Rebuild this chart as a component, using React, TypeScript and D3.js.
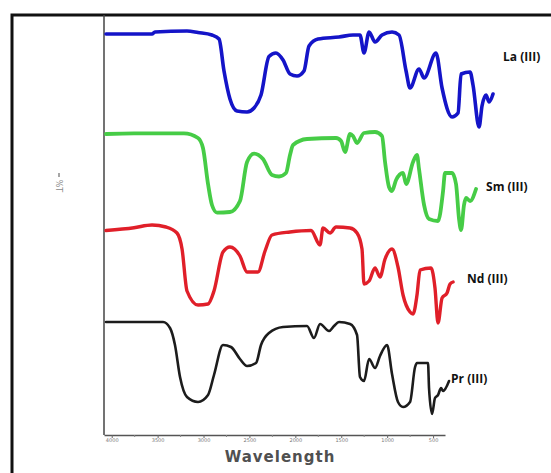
import React, { useEffect, useRef } from "react";
import * as d3 from "d3";

// x axis ticks (wavenumber, cm-1)
const xTicks = [4000, 3500, 3000, 2500, 2000, 1500, 1000, 500];
const xMinor = [3750, 3250, 2750, 2250, 1750, 1250, 750];

// [wavenumber, %T], one list per complex
const la: [number, number][] = [
  [4062, 96], [3561, 96], [3529, 98], [3180, 99], [3060, 97.5], [2908, 95], [2831, 91],
  [2777, 59], [2712, 31], [2635, 19], [2526, 18], [2450, 22], [2374, 35], [2287, 73.5],
  [2211, 77], [2134, 70], [2058, 56], [1982, 54], [1906, 59], [1851, 84], [1753, 91],
  [1524, 93], [1372, 95], [1296, 95], [1252, 77], [1197, 98], [1132, 88], [1056, 95],
  [947, 98], [871, 95], [794, 59], [751, 42], [653, 61], [598, 52], [468, 77], [402, 42],
  [293, 13], [228, 17], [195, 56], [97, 58], [65, 45], [-1, 3], [-33, 24], [-77, 35],
  [-110, 28], [-153, 36],
];
const sm: [number, number][] = [
  [4062, 93], [3757, 93.6], [3213, 93.6], [3060, 89], [3006, 79], [2951, 43], [2908, 22],
  [2853, 14.4], [2712, 15], [2603, 26], [2526, 65], [2450, 73.4], [2352, 68], [2254, 52],
  [2178, 50.5], [2102, 54], [2058, 72], [2025, 82], [1873, 88], [1557, 89], [1502, 86],
  [1459, 75], [1404, 93], [1372, 91], [1328, 84], [1252, 94], [1132, 95], [1056, 91],
  [1023, 65], [980, 40], [947, 36], [903, 47], [827, 54], [794, 43], [718, 65], [675, 72],
  [653, 58], [598, 22], [544, 8], [446, 6], [391, 36], [370, 54], [293, 54], [250, 43],
  [217, 8], [195, -3], [163, 22], [141, 29], [97, 26], [32, 38],
];
const nd: [number, number][] = [
  [4062, 92.5], [3757, 95.3], [3561, 98], [3409, 96], [3289, 90], [3234, 74], [3180, 32],
  [3060, 18], [2951, 19], [2886, 32], [2788, 71], [2712, 76], [2603, 67], [2526, 51],
  [2407, 51], [2330, 72], [2254, 88], [2058, 91], [1829, 92.5], [1731, 78], [1699, 95],
  [1622, 90], [1557, 96], [1404, 95], [1328, 90], [1274, 74], [1252, 39], [1197, 42],
  [1132, 55], [1078, 46], [1023, 64], [947, 74], [882, 56], [827, 28], [751, 11], [718, 9],
  [675, 28], [642, 53], [522, 55], [479, 35], [446, 0], [402, 25], [348, 30], [315, 39],
  [282, 41],
];
const pr: [number, number][] = [
  [4062, 94], [3441, 94], [3365, 88], [3311, 71], [3256, 39], [3180, 19], [3060, 14],
  [2951, 21], [2886, 41], [2788, 71], [2701, 69], [2603, 57], [2526, 50], [2428, 53],
  [2374, 71], [2287, 83], [2134, 89], [1873, 90], [1797, 78], [1731, 92], [1633, 85],
  [1579, 90], [1524, 94], [1404, 92], [1328, 81], [1296, 39], [1252, 35], [1197, 57],
  [1132, 48], [1078, 60], [1001, 71], [947, 42], [882, 14], [827, 9], [751, 14], [696, 49],
  [675, 53], [555, 53], [544, 28], [511, 2], [479, 18], [446, 21], [413, 28], [391, 25],
  [326, 35],
];

const names = ["La (III)", "Sm (III)", "Nd (III)", "Pr (III)"];
const colors = ["#1414c8", "#46cc46", "#e01f29", "#1c1c1c"];

function App() {
  const ref = useRef<SVGSVGElement>(null);

  useEffect(() => {
    const W = 551;
    const H = 473;
    const svg = d3.select(ref.current);
    svg.selectAll("*").remove();

    const x = d3.scaleLinear().domain([4084, 370]).range([104, 445]);
    const y = d3.scaleLinear().domain([0, 420]).range([435, 15]);

    // outer frame
    svg
      .append("rect")
      .attr("x", 12)
      .attr("y", 15)
      .attr("width", W + 20)
      .attr("height", H + 20)
      .attr("fill", "none")
      .attr("stroke", "#111")
      .attr("stroke-width", 3);

    // y axis line
    svg
      .append("line")
      .attr("x1", 104)
      .attr("x2", 104)
      .attr("y1", 15)
      .attr("y2", y(0))
      .attr("stroke", "#444")
      .attr("stroke-width", 1.5);

    // x axis
    const xAxis = svg.append("g").attr("transform", "translate(0," + y(0) + ")");
    xAxis.call(
      d3
        .axisBottom(x)
        .tickValues(xTicks)
        .tickSize(3)
        .tickSizeOuter(0)
        .tickFormat((d) => d3.format("d")(d as number))
    );
    xAxis.select(".domain").attr("stroke", "#555").attr("stroke-width", 1.5);
    xAxis.selectAll(".tick line").attr("stroke", "#666");
    xAxis
      .selectAll(".tick text")
      .attr("fill", "#777")
      .attr("font-size", 5)
      .attr("font-family", "DejaVu Sans")
      .attr("dy", "0.2em");
    xAxis
      .selectAll(".minor")
      .data(xMinor)
      .enter()
      .append("line")
      .attr("x1", (d) => x(d))
      .attr("x2", (d) => x(d))
      .attr("y1", 0)
      .attr("y2", 2)
      .attr("stroke", "#888");

    // axis titles
    svg
      .append("text")
      .attr("x", 280)
      .attr("y", 462)
      .attr("text-anchor", "middle")
      .attr("font-family", "DejaVu Sans")
      .attr("font-weight", "bold")
      .attr("font-size", 15)
      .attr("letter-spacing", 1)
      .attr("fill", "#505050")
      .text("Wavelength");

    const yl = svg.append("g").attr("transform", "translate(59,186) rotate(90)");
    yl.append("text")
      .attr("text-anchor", "middle")
      .attr("dy", "0.35em")
      .attr("font-family", "DejaVu Sans")
      .attr("font-size", 8)
      .attr("fill", "#888")
      .text("%T");
    yl.append("line")
      .attr("x1", -9)
      .attr("x2", -13)
      .attr("y1", 0)
      .attr("y2", 0)
      .attr("stroke", "#888")
      .attr("stroke-width", 1.5);

    // spectra, stacked with offsets in %T units
    const series = [la, sm, nd, pr];
    const offsets = [305, 208, 112, 19];
    const widths = [3.6, 3.8, 3.4, 2.6];
    const labelAt: [number, number][] = [[-262, 73], [-77, 40], [130, 44], [304, 37]];

    series.forEach((s, i) => {
      const line = d3
        .line<[number, number]>()
        .x((d) => x(d[0]))
        .y((d) => y(d[1] + offsets[i]))
        .curve(d3.curveMonotoneX);
      svg
        .append("path")
        .datum(s)
        .attr("d", line)
        .attr("fill", "none")
        .attr("stroke", colors[i])
        .attr("stroke-width", widths[i])
        .attr("stroke-linejoin", "round")
        .attr("stroke-linecap", "round");

      svg
        .append("text")
        .attr("x", x(labelAt[i][0]))
        .attr("y", y(labelAt[i][1] + offsets[i]))
        .attr("dy", "0.35em")
        .attr("font-family", "Open Sans")
        .attr("font-weight", "bold")
        .attr("font-size", 12)
        .attr("fill", "#111")
        .text(names[i]);
    });
  }, []);

  return (
    <svg
      ref={ref}
      width={551}
      height={473}
      style={{ position: "absolute", left: 0, top: 0, background: "#fff" }}
    />
  );
}

export default App;
